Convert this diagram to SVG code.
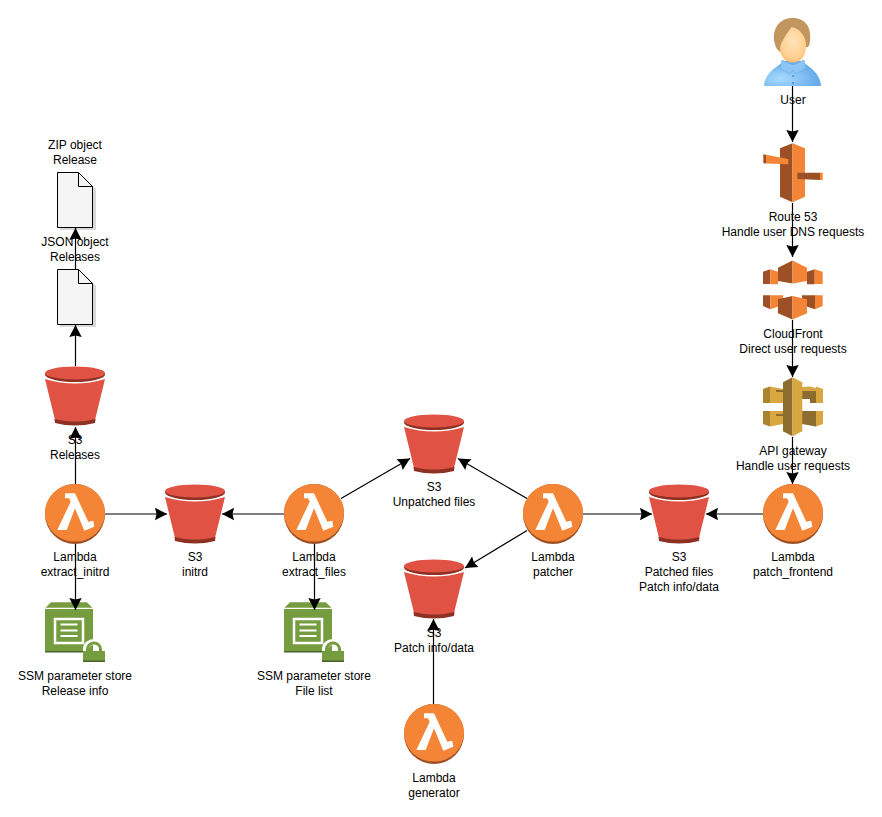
<svg xmlns="http://www.w3.org/2000/svg" width="882" height="817" viewBox="0 0 882 817">
<style>
text{font-family:"Liberation Sans",Arial,sans-serif;font-size:12px;fill:#000;text-anchor:middle}
.c line{stroke:#000;stroke-width:1.200;fill:none;marker-end:url(#arrow)}
.doc{fill:#f5f5f5;stroke:#000;stroke-width:1}
.or{fill:#f58536}.dk{fill:#9d5025}
.gl{fill:#d9a741}.gd{fill:#8c6d2f}
</style>
<defs>
<marker id="arrow" markerUnits="userSpaceOnUse" markerWidth="14" markerHeight="14" refX="12.500" refY="7" orient="auto">
<path d="M0.500,0.800 L12.500,7 L0.500,13.200 L2,7 Z" fill="#000"/>
</marker>
<radialGradient id="shirt" cx="0.3" cy="0.7" r="0.8"><stop offset="0" stop-color="#a8dcff"/><stop offset="1" stop-color="#5a9fe6"/></radialGradient>
<radialGradient id="face" cx="0.5" cy="0.4" r="0.75"><stop offset="0" stop-color="#ffe3b8"/><stop offset="0.65" stop-color="#ffcf8f"/><stop offset="1" stop-color="#f9a94a"/></radialGradient>
<symbol id="bucket" width="60" height="60" viewBox="0 0 60 60" overflow="visible">
<path d="M0,13 Q30,22 60,13 L50,54 Q30,58 10,54 Z" fill="#e05243"/>
<path d="M9.500,53 Q30,58 50.500,53 L50,57 Q30,62 10,57 Z" fill="#8c3123"/>
<ellipse cx="30" cy="8.500" rx="30" ry="7.500" fill="#8c3123"/>
<ellipse cx="30" cy="7" rx="30" ry="6.500" fill="#e05243"/>
</symbol>
<symbol id="lambda" width="60" height="60" viewBox="0 0 60 60" overflow="visible">
<circle cx="30" cy="30" r="30" fill="#9d5025"/>
<ellipse cx="30" cy="28.800" rx="30" ry="28.800" class="or"/>
<path d="M20,9.300 L30,9.300 L43.300,37.700 L48.300,36.700 L49.300,42.700 L39.300,46.700 L30,24.300 L21.700,46 L12.300,46 L25.700,17.700 L24,14.300 L20,14.300 Z" fill="#fff"/>
</symbol>
<symbol id="ssm" width="60" height="60" viewBox="0 0 60 60" overflow="visible">
<path d="M6,0.300 H41.700 L47.500,5.700 H0.500 Z" fill="#759c3e"/>
<rect x="0" y="7" width="48" height="42" fill="#759c3e"/>
<rect x="0" y="49" width="48" height="1.500" fill="#4b612c"/>
<rect x="10" y="17" width="28" height="24" fill="none" stroke="#fff" stroke-width="2.500"/>
<path d="M15.500,22.500 H32.500 M15.500,28.500 H32.500 M15.500,34 H32.500" stroke="#fff" stroke-width="2" fill="none"/>
<path d="M41,50 V47 A8,7 0 0 1 57,47 V50" fill="none" stroke="#fff" stroke-width="6"/>
<path d="M42.500,50 V47 A6.500,6 0 0 1 55.500,47 V50" fill="none" stroke="#759c3e" stroke-width="3"/>
<rect x="38" y="49" width="22" height="10" fill="#759c3e"/>
<rect x="38" y="58.500" width="22" height="1.500" fill="#4b612c"/>
</symbol>
</defs>
<rect width="882" height="817" fill="#fff"/>

<g id="zip-object">
<path d="M60,175 H82 L96,189 V230 H60 Z" fill="#000" opacity="0.15"/>
<path class="doc" d="M57.500,172.500 H78.500 L92.500,186.500 V227.500 H57.500 Z"/>
<path d="M78.500,172.500 V186.500 H92.500" fill="none" stroke="#000"/>
<text x="75" y="149">ZIP object</text><text x="75" y="164">Release</text>
</g>
<g id="json-object">
<path d="M60,272 H82 L96,286 V327 H60 Z" fill="#000" opacity="0.15"/>
<path class="doc" d="M57.500,269.500 H78.500 L92.500,283.500 V324.500 H57.500 Z"/>
<path d="M78.500,269.500 V283.500 H92.500" fill="none" stroke="#000"/>
<text x="75" y="246">JSON object</text><text x="75" y="261">Releases</text>
</g>
<g id="s3-releases"><use href="#bucket" x="45" y="366"/><text x="75" y="444">S3</text><text x="75" y="459">Releases</text></g>
<g id="lambda-extract-initrd"><use href="#lambda" x="45" y="484"/><text x="75" y="561">Lambda</text><text x="75" y="576">extract_initrd</text></g>
<g id="ssm-release"><use href="#ssm" x="45" y="602"/><text x="75" y="680">SSM parameter store</text><text x="75" y="695">Release info</text></g>
<g id="s3-initrd"><use href="#bucket" x="165" y="484"/><text x="195" y="561">S3</text><text x="195" y="576">initrd</text></g>
<g id="lambda-extract-files"><use href="#lambda" x="284" y="484"/><text x="314" y="561">Lambda</text><text x="314" y="576">extract_files</text></g>
<g id="ssm-files"><use href="#ssm" x="284" y="602"/><text x="314" y="680">SSM parameter store</text><text x="314" y="695">File list</text></g>
<g id="s3-unpatched"><use href="#bucket" x="404" y="414"/><text x="434" y="491">S3</text><text x="434" y="506">Unpatched files</text></g>
<g id="s3-patch-info"><use href="#bucket" x="404" y="559"/><text x="434" y="637">S3</text><text x="434" y="652">Patch info/data</text></g>
<g id="lambda-generator"><use href="#lambda" x="404" y="704"/><text x="434" y="782">Lambda</text><text x="434" y="797">generator</text></g>
<g id="lambda-patcher"><use href="#lambda" x="523" y="484"/><text x="553" y="561">Lambda</text><text x="553" y="576">patcher</text></g>
<g id="s3-patched"><use href="#bucket" x="649" y="484"/><text x="679" y="561">S3</text><text x="679" y="576">Patched files</text><text x="679" y="591">Patch info/data</text></g>
<g id="lambda-patch-frontend"><use href="#lambda" x="763" y="484"/><text x="793" y="561">Lambda</text><text x="793" y="576">patch_frontend</text></g>

<g id="user">
<path d="M764,86 C765,72 778,66 785,61 H801 C808,66 820,72 821,86 Z" fill="url(#shirt)"/>
<path d="M782,60 L793,65 L804,60 L806,68 L796,74 L793,70 L790,74 L780,68 Z" fill="#8cc6f5" stroke="#6aa8e6" stroke-width="0.600"/>
<circle cx="793" cy="76" r="1.100" fill="#4f8fd6"/><circle cx="793" cy="83" r="1.100" fill="#4f8fd6"/>
<path d="M774,40 C773,25 782,18 793,18 C805,18 812,27 810,42 C809,47 807,48 806,47 L781,52 C777,51 775,46 774,40 Z" fill="#c4965f"/>
<path d="M780,48 C781,42 786,35 791.500,27 C801,29 806,37 806,46 C806,56 801,62.500 793,62.500 C785,62.500 780,56 780,48 Z" fill="url(#face)"/>
<text x="793" y="104">User</text>
</g>
<g id="route53">
<path class="dk" d="M780,148.300 L792.500,143.300 V202.300 L780,196.700 Z"/>
<path class="or" d="M792.500,143.300 L805,148.300 V196.700 L792.500,202.300 Z"/>
<path class="or" d="M766,154.800 L788.300,159 V164.300 L766,163.500 Z"/>
<path class="dk" d="M763.300,154.300 L766,154.800 V163.500 L763.300,163.300 Z"/>
<path class="dk" d="M797.300,172.700 H820 V180 L797.300,179 Z"/>
<rect class="or" x="820" y="172.700" width="2.700" height="7.300"/>
<text x="793" y="221">Route 53</text><text x="793" y="236">Handle user DNS requests</text>
</g>
<g id="cloudfront">
<path class="dk" d="M763,271.700 L770.300,269.300 V284 H763 Z"/><path class="or" d="M770.300,269.300 L778,271.700 V284.300 H770.300 Z"/>
<path class="dk" d="M807,271.700 L814.700,269.300 V284.300 H807 Z"/><path class="or" d="M814.700,269.300 L822.700,271.700 V284 H814.700 Z"/>
<path class="dk" d="M778,267.700 L792.500,260.500 V283.500 L778,281 Z"/><path class="or" d="M792.500,260.500 L807,267.700 V281 L792.500,283.500 Z"/>
<path class="dk" d="M763,295.300 H770.300 V309.300 L763,306 Z"/><path class="or" d="M770.300,295.300 H783 V305 L770.300,309.300 Z"/>
<path class="dk" d="M802,295.300 H815 V309.300 L802,305 Z"/><path class="or" d="M815,295.300 H822.700 V306 L815,309.300 Z"/>
<path class="dk" d="M778,299.300 L792.500,296 V319.500 L778,313.300 Z"/><path class="or" d="M792.500,296 L807,299.300 V313.300 L792.500,319.500 Z"/>
<text x="793" y="338">CloudFront</text><text x="793" y="353">Direct user requests</text>
</g>
<g id="api-gateway">
<path fill="#a8842f" d="M763,389 L770,386.500 V403 H763 Z"/><path class="gl" d="M770,386.500 L783,389 V403 H770 Z"/>
<path class="gd" d="M776,390 H783 V392 H776 Z"/>
<path class="gl" d="M802,387 L810,386.500 L816,388 V391 H802 Z"/><path class="gd" d="M802,391 H816 V399 H802 Z M810,391 H816 V403 H810 Z"/>
<path class="gl" d="M816,386.500 L823,389 V403 H816 Z"/>
<path fill="#a8842f" d="M763,411 H770 V426.500 L763,424 Z"/><path class="gl" d="M770,411 H783 V424 L770,426.500 Z"/>
<path class="gd" d="M776,414 H783 V416 H776 Z"/>
<path class="gd" d="M802,411 H816 V426.500 L802,424 Z"/><path class="gl" d="M816,411 H823 V424 L816,426.500 Z"/>
<path class="gd" d="M783,382.300 L792.500,377.300 V436.300 L783,431.300 Z"/><path class="gl" d="M792.500,377.300 L802.300,382.300 V431.300 L792.500,436.300 Z"/>
<text x="793" y="455">API gateway</text><text x="793" y="470">Handle user requests</text>
</g>

<g id="connectors" class="c">
<line x1="75.500" y1="269" x2="75.500" y2="228"/>
<line x1="75.500" y1="366" x2="75.500" y2="325"/>
<line x1="75.500" y1="484" x2="75.500" y2="427"/>
<line x1="75.500" y1="544" x2="75.500" y2="610"/>
<line x1="105" y1="514" x2="167" y2="514"/>
<line x1="284" y1="514" x2="222" y2="514"/>
<line x1="314.500" y1="544" x2="314.500" y2="610"/>
<line x1="341" y1="498.500" x2="410" y2="458.500"/>
<line x1="527" y1="498.500" x2="458" y2="458.500"/>
<line x1="527" y1="530.500" x2="465" y2="568"/>
<line x1="433.500" y1="704" x2="433.500" y2="619"/>
<line x1="583" y1="514" x2="652" y2="514"/>
<line x1="763" y1="514" x2="706" y2="514"/>
<line x1="792.500" y1="86" x2="792.500" y2="142"/>
<line x1="792.500" y1="203" x2="792.500" y2="257"/>
<line x1="792.500" y1="320" x2="792.500" y2="377"/>
<line x1="792.500" y1="437" x2="792.500" y2="484"/>
</g>
</svg>
